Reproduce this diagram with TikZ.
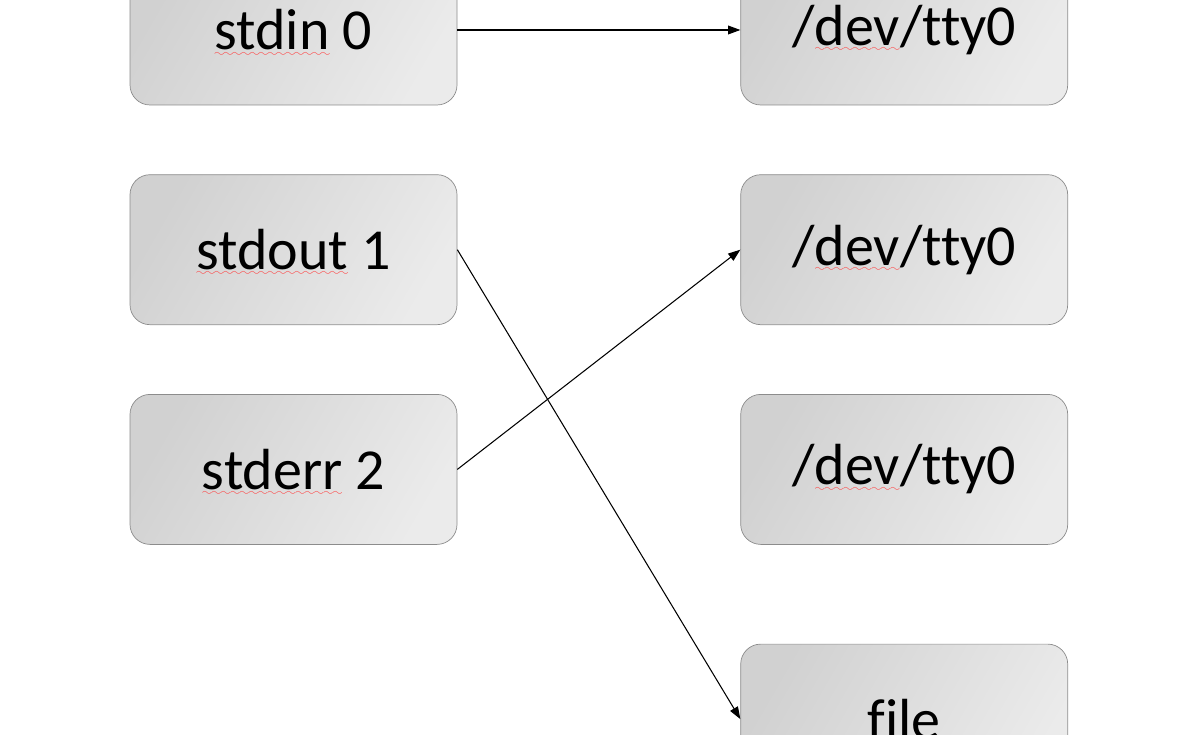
\documentclass[tikz,border=0pt]{standalone}
\usepackage{fontspec}
\setmainfont[Ligatures=NoCommon]{Carlito}
\usepackage{tikz}
\usetikzlibrary{arrows.meta,positioning}

\font\sixly=lasy6
\newcommand\spellerr[1]{\setbox0=\hbox{#1}%
    \rlap{\color{red!75}\raisebox{-3.5pt}[0pt][0pt]{\hbox to\wd0{\xleaders\hbox{\sixly\char58}\hfil}}}\box0\relax}

\begin{document}
\begin{tikzpicture}[
        font=\fontsize{33}{40}\selectfont,
        box/.style={draw=black!45, rounded corners=0.4cm, align=center,
            minimum width=6.54cm, minimum height=3cm,
            left color=black!18, right color=black!8, shading angle=60},
        arr/.style={-{Triangle[length=7pt,width=5pt]}, line width=0.6pt}
    ]
        \clip (0,0) rectangle (23.62,14.7);
        \node[box] at (5.87,14.1) (stdin) {\spellerr{stdin} 0};
        \node[box, below=1.38cm of stdin] (stdout) {\spellerr{stdout} 1};
        \node[box, below=1.38cm of stdout] (stderr) {\spellerr{stderr} 2};
        \node[box, right=5.66cm of stdin] (ttyin) {/\spellerr{dev}/tty0};
        \node[box, right=5.66cm of stdout] (ttyout) {/\spellerr{dev}/tty0};
        \node[box, right=5.66cm of stderr] (ttyerr) {/\spellerr{dev}/tty0};
        \node[box, below=1.98cm of ttyerr] (file) {file};
        \draw[arr] (stdin) -- (ttyin);
        \draw[arr] (stdout.east) -- (file.west);
        \draw[arr] (stderr.east) -- (ttyout.west);
    \end{tikzpicture}
\end{document}
